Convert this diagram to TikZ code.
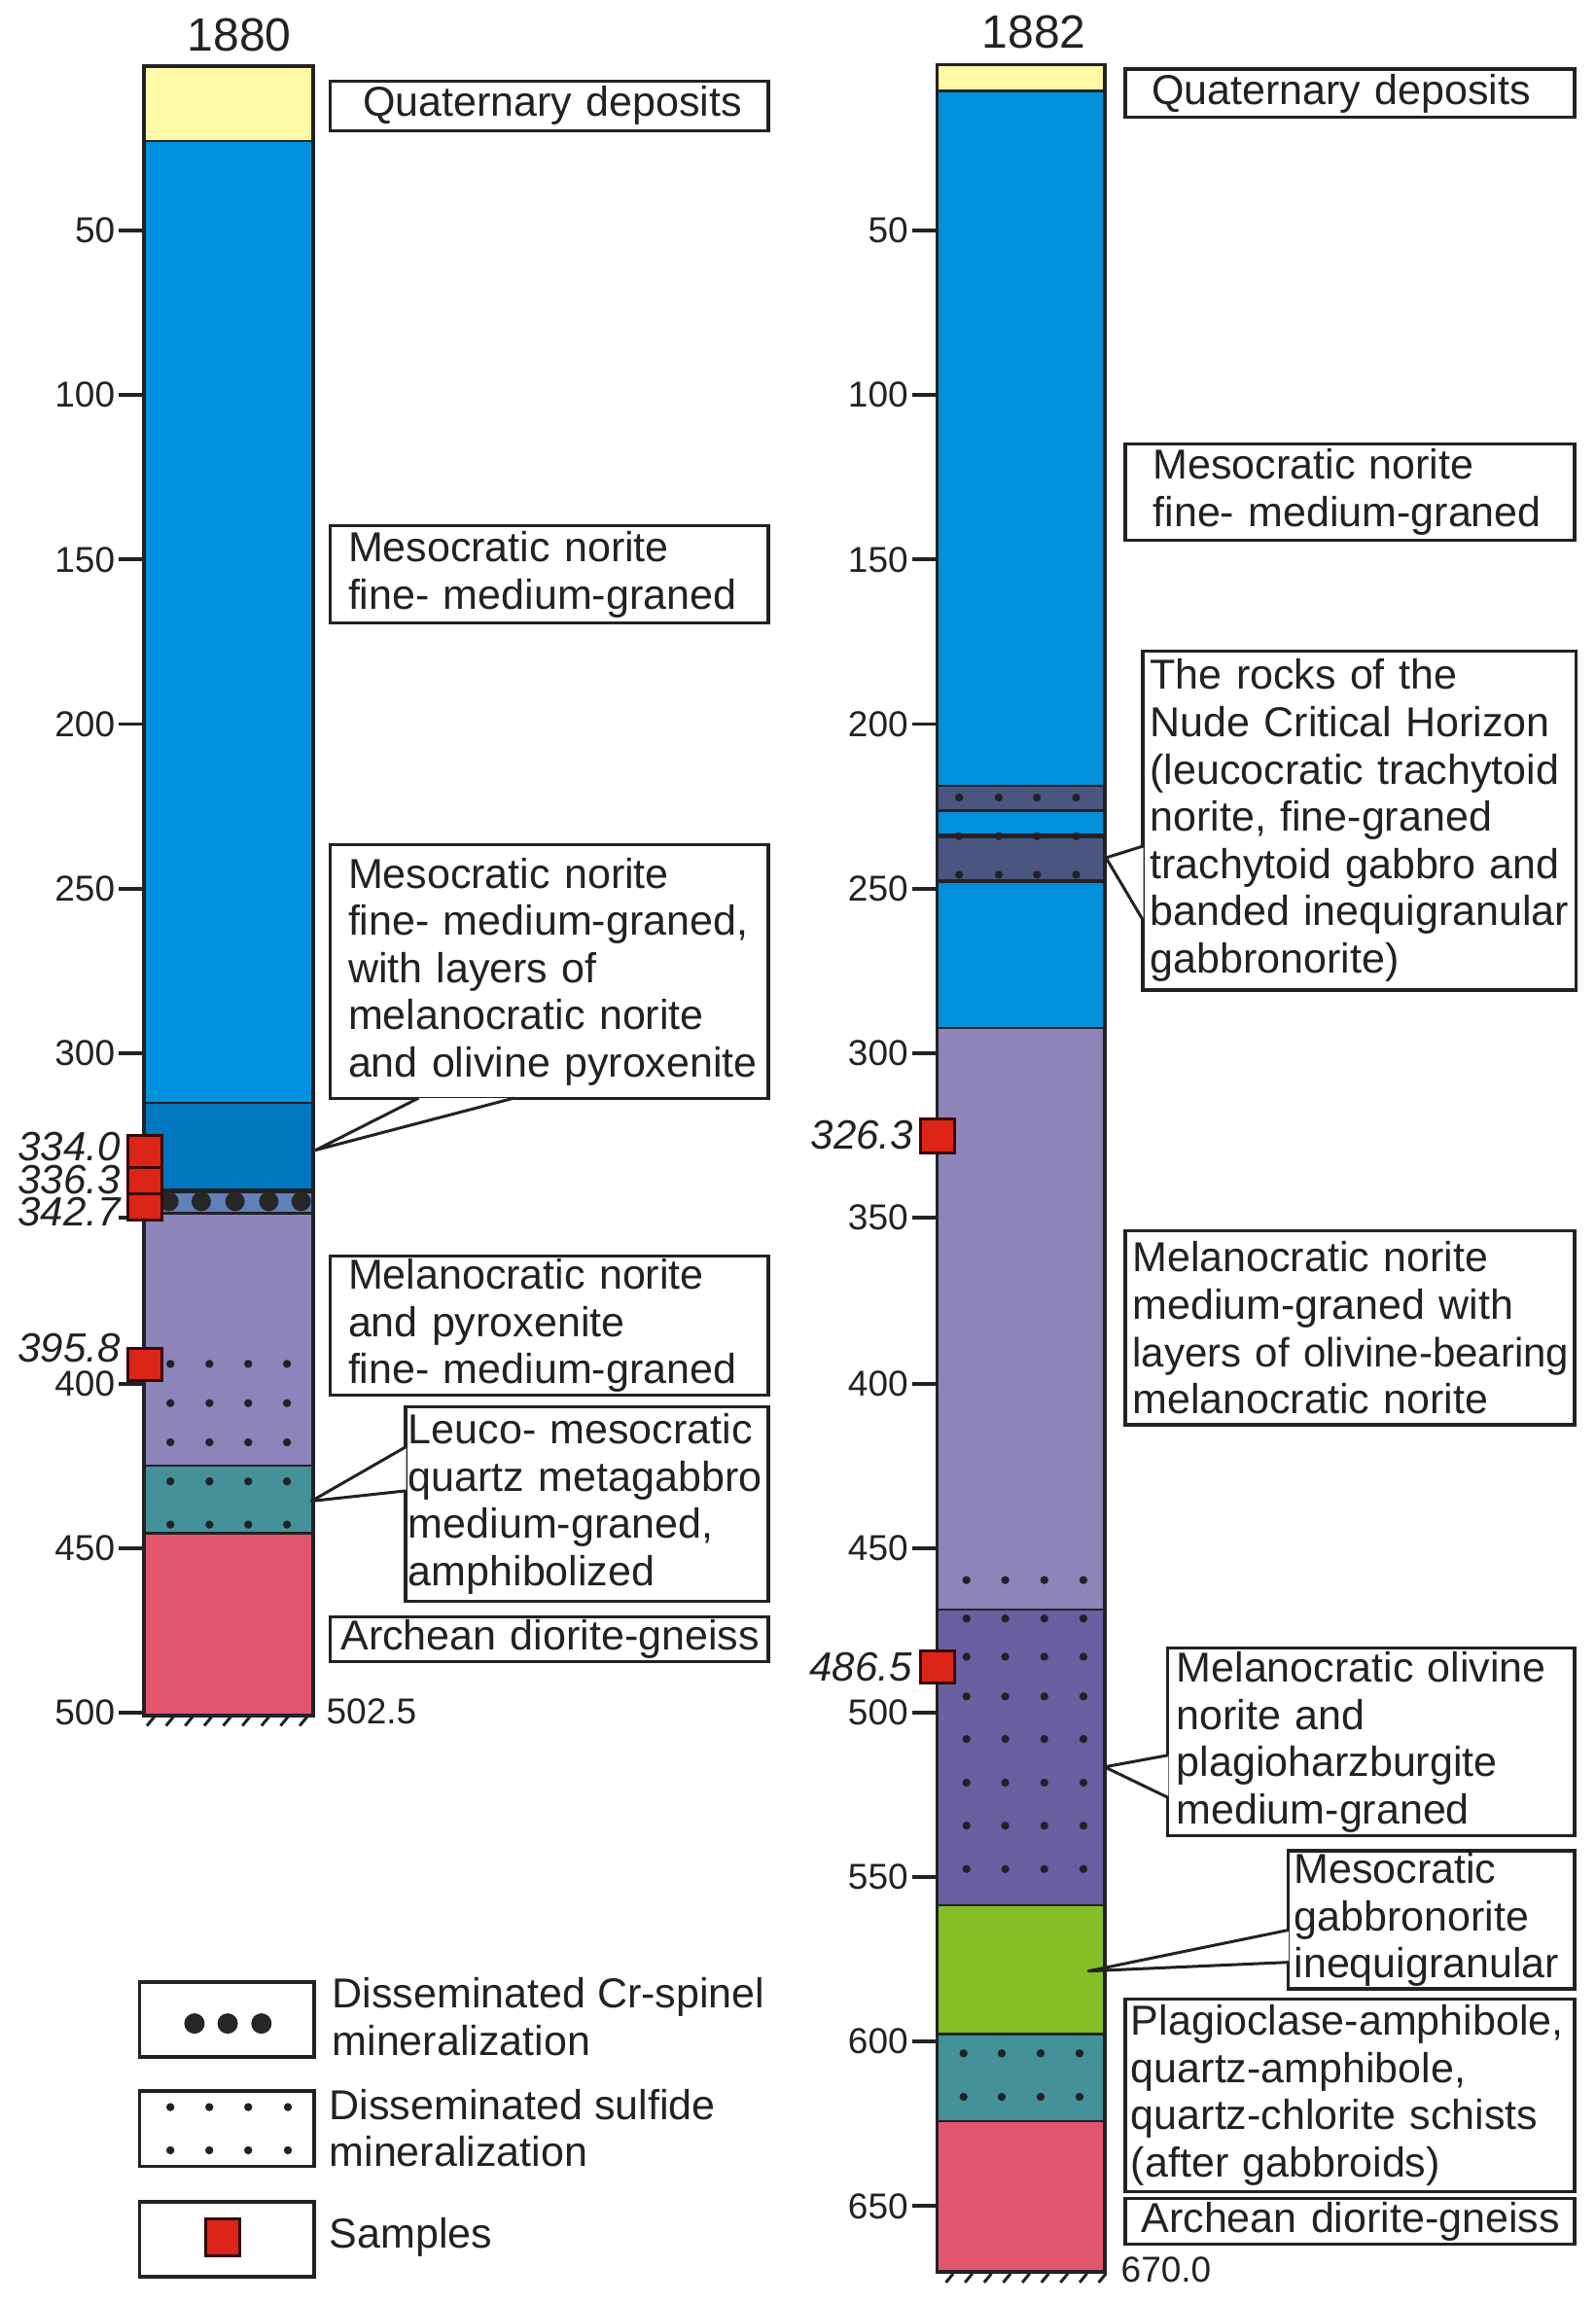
\documentclass[tikz,border=0pt]{standalone}
\usepackage{fontspec}
\setmainfont{Liberation Sans}
\usepackage{tikz}
\usetikzlibrary{positioning, calc}
\definecolor{PaleYellow}{RGB}{255, 250, 165}
\definecolor{NoriteBlue}{RGB}{0, 144, 220}
\definecolor{DeepBlue}{RGB}{0, 119, 190}
\definecolor{SpinelBlue}{RGB}{96, 128, 184}
\definecolor{MelaPurple}{RGB}{141, 132, 185}
\definecolor{OlivPurple}{RGB}{106, 95, 160}
\definecolor{SlateBlue}{RGB}{75, 86, 128}
\definecolor{SchistTeal}{RGB}{68, 145, 153}
\definecolor{GneissPink}{RGB}{226, 85, 111}
\definecolor{GabbroGreen}{RGB}{133, 191, 37}
\definecolor{SampleRed}{RGB}{221, 36, 25}
\definecolor{InkDark}{RGB}{34, 34, 38}
\newlength{\un}
\setlength{\un}{0.755pt}

\begin{document}
\begin{tikzpicture}[
            x=0.755pt, y=-0.755pt,
            every node/.style={text=InkDark},
            layer/.style={draw=InkDark, line width=1.2pt},
            outline/.style={draw=InkDark, line width=1.9pt},
            tick/.style={draw=InkDark, line width=1.9pt},
            hatch/.style={draw=InkDark, line width=1.5pt},
            leader/.style={draw=InkDark, line width=1.5pt, fill=white, line join=round},
            num/.style={font=\fontsize{18.5}{22}\selectfont, inner sep=0pt},
            depth/.style={font=\itshape\fontsize{21}{22}\selectfont, inner sep=0pt, anchor=east},
            title/.style={font=\fontsize{24}{28}\selectfont, inner sep=0pt},
            sample/.style={draw=black!75!SampleRed, fill=SampleRed, line width=1.5pt},
            sdot/.style={fill=InkDark, circle, inner sep=0pt, minimum size=4.2pt},
            cdot/.style={fill=black!85, circle, inner sep=0pt, minimum size=10pt},
            lbl/.style n args={3}{draw=InkDark, line width=1.6pt, fill=white, anchor=north west, align=left,
                font=\fontsize{21.5}{24.3}\selectfont, inner ysep=0pt, inner xsep=0pt,
                minimum width=#1*\un, minimum height=#2*\un, text width=#1*\un,
                execute at begin node={\hyphenpenalty=10000\exhyphenpenalty=10000\hfuzz=20pt\leftskip=\dimexpr#3\un-\un\relax}},
            legbox/.style={draw=InkDark, line width=1.7pt, fill=white, minimum width=119*\un, minimum height=51*\un, inner sep=0pt},
            legtext/.style={font=\fontsize{21.5}{24.3}\selectfont, inner sep=0pt, anchor=west, align=left},
        ]
\useasboundingbox (0,0) rectangle (1086,1568);

% column 1880
\foreach \ya/\yb/\col in {45/96/PaleYellow, 96/751/NoriteBlue, 751/811/DeepBlue, 811/826/SpinelBlue,
        826/998/MelaPurple, 998/1044/SchistTeal, 1044/1168/GneissPink}
    \draw[layer, fill=\col] (98,\ya) rectangle (213,\yb);
\draw[layer, line width=2.4pt] (98,811) -- (213,811);
\draw[outline] (98,45) rectangle (213,1168);
\foreach \x in {115,137,160,183,205}
    \node[cdot] (cr\x) at (\x,818) {};
\foreach \x in {116,142.6,169,195.4}
    \foreach \y in {928.6,955.3,982,1008.6,1038}
        \node[sdot] (sa\x-\y) at (\x,\y) {};
\foreach \x in {100,113,...,205}
    \draw[hatch] (\x+5,1169) -- (\x,1175);

% column 1882
\foreach \ya/\yb/\col in {44/62/PaleYellow, 62/535/NoriteBlue, 535/552/SlateBlue, 552/569/NoriteBlue,
        569/600/SlateBlue, 600/700/NoriteBlue, 700/1096/MelaPurple, 1096/1297/OlivPurple,
        1297/1385/GabbroGreen, 1385/1444/SchistTeal, 1444/1547/GneissPink}
    \draw[layer, fill=\col] (638,\ya) rectangle (752,\yb);
\draw[layer, line width=2.2pt] (638,569) -- (752,569);
\draw[layer, line width=2.2pt] (638,600) -- (752,600);
\draw[outline] (638,44) rectangle (752,1547);
\foreach \x in {653,680,706,732.7}
    \foreach \y in {543,569.3,595.6}
        \node[sdot] (sb\x-\y) at (\x,\y) {};
\foreach \x in {658,684.4,711,737.6}
    \foreach \y in {1075.8,1102,1128,1155,1184,1213.7,1243,1272.5}
        \node[sdot] (sc\x-\y) at (\x,\y) {};
\foreach \x in {656,682,708.5,735}
    \foreach \y in {1398,1427.6}
        \node[sdot] (sd\x-\y) at (\x,\y) {};
\foreach \x in {644,657,...,749}
    \draw[hatch] (\x+5,1548) -- (\x,1554);

% depth scales
\foreach \d/\y in {50/157,100/269,150/381,200/493,250/605,300/717,400/942,450/1054,500/1166}
    \draw[tick] (81,\y) -- (98,\y) node[num, pos=0, left=1.5*\un, name=la\d] {\d};
\draw[tick] (81,829) -- (98,829);
\foreach \d/\y in {50/157,100/269,150/381,200/493,250/605,300/717,350/829,400/942,450/1054,500/1166,550/1278,600/1390,650/1502}
    \draw[tick] (621,\y) -- (638,\y) node[num, pos=0, left=1.5*\un, name=lb\d] {\d};

% samples
\foreach \ya/\yb in {773/795,795/813,813/831,918/940}
    \draw[sample] (87,\ya) rectangle (110,\yb);
\foreach \ya/\yb in {762/785,1124/1146}
    \draw[sample] (627,\ya) rectangle (650,\yb);
\node[depth] (s3340) at (82,781) {334.0};
\node[depth] (s3363) at (82,803) {336.3};
\node[depth] (s3427) at (82,825) {342.7};
\node[depth] (s3958) at (82,918) {395.8};
\node[depth] (s3263) at (622,773) {326.3};
\node[depth] (s4865) at (621,1135) {486.5};

\node[title] (t1880) at (163,24) {1880};
\node[title] (t1882) at (704,22) {1882};
\node[num, anchor=west] (b5025) at (222,1165) {502.5};
\node[num, anchor=west] (b6700) at (763,1545) {670.0};

% labels 1880
\node[lbl={298}{34}{23}] (qa) at (224,54) {Quaternary deposits};
\node[lbl={298}{66}{13}] (mna) at (224,357) {Mesocratic norite\\fine- medium-graned};
\node[lbl={298}{173}{13}] (mnb) at (224,574) {Mesocratic norite\\fine- medium-graned,\\with layers of\\melanocratic norite\\and olivine pyroxenite};
\node[lbl={298}{95}{13}] (mla) at (224,854) {Melanocratic norite\\and pyroxenite\\fine- medium-graned};
\node[lbl={247}{132}{3}] (leu) at (275,957) {Leuco- mesocratic\\quartz metagabbro\\medium-graned,\\amphibolized};
\node[lbl={298}{30}{8}] (ara) at (224,1100) {Archean diorite-gneiss};

% labels 1882
\node[lbl={306}{33}{19}] (qb) at (765,46) {Quaternary deposits};
\node[lbl={306}{66}{20}] (mnc) at (765,301) {Mesocratic norite\\fine- medium-graned};
\node[lbl={295}{231}{6}] (nch) at (777,442) {The rocks of the\\Nude Critical Horizon\\(leucocratic trachytoid\\norite, fine-graned\\trachytoid gabbro and\\banded inequigranular\\gabbronorite)};
\node[lbl={306}{132}{6}] (mlb) at (765,837) {Melanocratic norite\\medium-graned with\\\mbox{\fontsize{21}{24.3}\selectfont layers of olivine-bearing}\\melanocratic norite};
\node[lbl={277}{128}{7}] (olv) at (794,1121) {Melanocratic olivine\\norite and\\plagioharzburgite\\medium-graned};
\node[lbl={195}{94}{5}] (gbn) at (876,1259) {Mesocratic\\gabbronorite\\inequigranular};
\node[lbl={306}{131}{5}] (plg) at (765,1360) {Plagioclase-amphibole,\\quartz-amphibole,\\quartz-chlorite schists\\(after gabbroids)};
\node[lbl={306}{31}{12}] (arb) at (765,1496) {Archean diorite-gneiss};

% callouts
\coordinate (mnbtip) at (215,783);
\coordinate (leutip) at (212,1022);
\coordinate (nchtip) at (753,584);
\coordinate (olvtip) at (752,1203);
\coordinate (gbntip) at (741,1342);
\draw[leader] ($(mnb.south west)+(61,-1.5)$) -- (mnbtip) -- ($(mnb.south west)+(126,-1.5)$);
\draw[leader] ($(leu.north west)+(1.5,28)$) -- (leutip) -- ($(leu.north west)+(1.5,58)$);
\draw[leader] ($(nch.north west)+(1.5,134)$) -- (nchtip) -- ($(nch.north west)+(1.5,185)$);
\draw[leader] ($(olv.north west)+(1.5,74)$) -- (olvtip) -- ($(olv.north west)+(1.5,103)$);
\draw[leader] ($(gbn.north west)+(1.5,55)$) -- (gbntip) -- ($(gbn.north west)+(1.5,77)$);

% legend
\node[legbox] (legcr) at (154.5,1375) {};
\node[legbox, below=21*\un of legcr] (legsu) {};
\node[legbox, below=22*\un of legsu] (legsa) {};
\foreach \x in {132.4,155,178}
    \node[cdot, minimum size=10.5pt] (lc\x) at (\x,1377.7) {};
\foreach \x in {116,142.5,169,196}
    \foreach \y in {1434.6,1464}
        \node[sdot] (ls\x-\y) at (\x,\y) {};
\draw[sample] (140,1511) rectangle (163,1536);
\node[legtext] (tcr) at (226,1373) {Disseminated Cr-spinel\\mineralization};
\node[legtext] (tsu) at (224,1449) {Disseminated sulfide\\mineralization};
\node[legtext] (tsa) at (224,1523) {Samples};
\end{tikzpicture}
\end{document}
